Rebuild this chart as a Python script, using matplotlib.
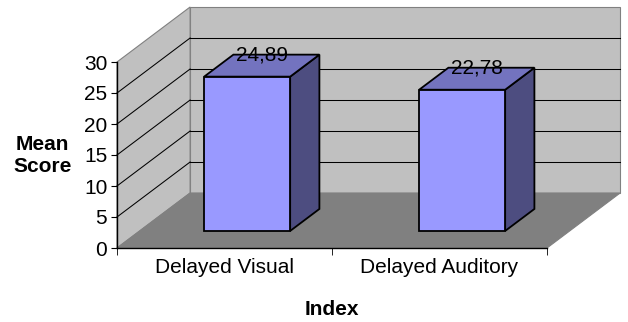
import matplotlib.pyplot as plt
from matplotlib.patches import Polygon

plt.rcParams['font.family'] = ['Liberation Sans', 'DejaVu Sans']

categories = ["Delayed Visual", "Delayed Auditory"]
means = [24.89, 22.78]
y_ticks = [0, 5, 10, 15, 20, 25, 30]

# oblique offset of the back wall, in data units (x: categories, y: score)
DX, DY = 0.34, 8.87
BAR_HALF = 0.2
BAR_T0, BAR_T1 = 0.31, 0.71

WALL = "#C0C0C0"
FLOOR = "#808080"
EDGE = "#808080"


def shift(x, y, t):
    return (x + t * DX, y + t * DY)


def poly(ax, pts, face, edge, lw=0.8, z=1):
    ax.add_patch(Polygon(pts, closed=True, facecolor=face, edgecolor=edge,
                         linewidth=lw, zorder=z, clip_on=False))


fig = plt.figure(figsize=(6.28, 3.22), dpi=100)
ax = fig.add_axes([117 / 628, 74 / 322, 430 / 628, 186 / 322])
n = len(categories)
top = y_ticks[-1]
ax.set_xlim(0, n)
ax.set_ylim(0, top)

# walls and floor
poly(ax, [shift(0, 0, 1), shift(n, 0, 1), shift(n, top, 1), shift(0, top, 1)], WALL, EDGE)
poly(ax, [(0, 0), shift(0, 0, 1), shift(0, top, 1), (0, top)], WALL, EDGE)
poly(ax, [(0, 0), (n, 0), shift(n, 0, 1), shift(0, 0, 1)], FLOOR, EDGE)

# gridlines on side and back walls
for v in y_ticks[1:-1]:
    x0, y0 = shift(0, v, 1)
    x1, y1 = shift(n, v, 1)
    ax.plot([0, x0], [v, y0], color="black", lw=0.75, zorder=2, clip_on=False)
    ax.plot([x0, x1], [y0, y1], color="black", lw=0.75, zorder=2, clip_on=False)

# 3D bars
for i, v in enumerate(means):
    c = i + 0.5
    l, r = c - BAR_HALF, c + BAR_HALF
    front = [shift(l, 0, BAR_T0), shift(r, 0, BAR_T0), shift(r, v, BAR_T0), shift(l, v, BAR_T0)]
    top_face = [shift(l, v, BAR_T0), shift(r, v, BAR_T0), shift(r, v, BAR_T1), shift(l, v, BAR_T1)]
    side = [shift(r, 0, BAR_T0), shift(r, 0, BAR_T1), shift(r, v, BAR_T1), shift(r, v, BAR_T0)]
    poly(ax, side, "#4D4D80", "black", lw=1.3, z=3)
    poly(ax, top_face, "#7373BF", "black", lw=1.3, z=3)
    poly(ax, front, "#9999FF", "black", lw=1.3, z=3)
    lx, ly = shift(c, v, (BAR_T0 + BAR_T1) / 2)
    ax.text(lx, v + BAR_T1 * DY, f"{v:.2f}".replace(".", ","), ha="center", va="center",
            fontsize=15, zorder=4)

ax.set_facecolor("none")
for s in ("top", "right"):
    ax.spines[s].set_visible(False)
for s in ("left", "bottom"):
    ax.spines[s].set_color("black")
    ax.spines[s].set_linewidth(1.0)
    ax.spines[s].set_zorder(5)

ax.set_yticks(y_ticks)
ax.tick_params(axis="y", labelsize=15, length=4, pad=3, direction="out")
ax.set_xticks([i + 0.5 for i in range(n)])
ax.set_xticklabels(categories)
ax.set_xticks(range(n + 1), minor=True)
ax.tick_params(axis="x", which="major", labelsize=15, length=0, pad=7.5)
ax.tick_params(axis="x", which="minor", length=5, direction="out")

ax.set_ylabel("Mean\nScore", rotation=0, fontsize=15, fontweight="bold",
              ha="center", va="center", multialignment="center")
ax.yaxis.set_label_coords(-0.174, 0.5)
ax.set_xlabel("Index", fontsize=15, fontweight="bold", va="center")
ax.xaxis.set_label_coords(0.5, -0.333)

fig.savefig("out.png", dpi=100)
